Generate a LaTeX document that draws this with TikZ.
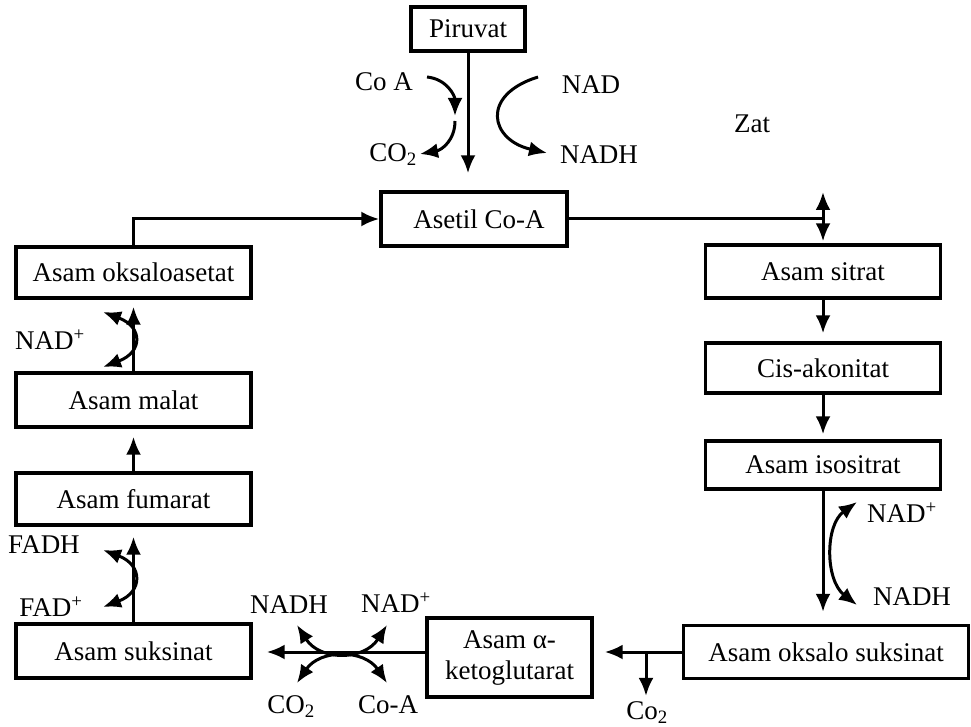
\documentclass[tikz,border=0pt]{standalone}
\usepackage{fontspec}
\setmainfont{Liberation Serif}
\usetikzlibrary{calc,arrows.meta}
\def\BoxWidth{235pt}
\def\LineWidth{3pt}
\def\TipLength{18pt}
\def\TipWidth{15pt}

\begin{document}
\begin{tikzpicture}[x=1pt,y=-1pt,
  font=\fontsize{27}{31}\selectfont,
  box/.style={draw, line width=3.4pt, inner sep=0pt, minimum width=\BoxWidth, minimum height=52pt},
  flow/.style={line width=\LineWidth, -{Latex[length=\TipLength,width=\TipWidth]}},
  both/.style={line width=\LineWidth, {Latex[length=\TipLength,width=\TipWidth]}-{Latex[length=\TipLength,width=\TipWidth]}},
  lbl/.style={inner sep=0pt}]
  \useasboundingbox (0,0) rectangle (971,727);
  % boxes
  \node[box, minimum width=114pt, minimum height=44pt] (piruvat) at (468,29) {Piruvat};
  \node[box, minimum width=186pt, minimum height=54pt] (asetil) at (474,219) {\hspace{10pt}Asetil Co-A};
  \node[box, minimum height=53pt] (sitrat) at (823,271.5) {Asam sitrat};
  \node[box, minimum height=50pt] (cis) at (823,368) {Cis-akonitat};
  \node[box, minimum height=48pt] (isositrat) at (823,465) {Asam isositrat};
  \node[box, minimum width=285pt, minimum height=53pt] (oksalo) at (826,652) {Asam oksalo suksinat};
  \node[box, minimum width=165pt, minimum height=79pt, align=center] (keto) at (509.5,657.5) {Asam α-\\ketoglutarat};
  \node[box, minimum height=54pt] (suksinat) at (133.5,651) {Asam suksinat};
  \node[box, minimum height=52pt] (fumarat) at (133.5,499) {Asam fumarat};
  \node[box, minimum height=54pt] (malat) at (133.5,400) {Asam malat};
  \node[box, minimum height=51pt] (oksaloasetat) at (133.5,272.5) {Asam oksaloasetat};
  % labels
  \node[lbl] (coa) at (384,82) {Co A};
  \node[lbl] (co2a) at (393,155) {CO\textsubscript{2}};
  \node[lbl] (nad) at (591,85) {NAD};
  \node[lbl] (nadh) at (599,155) {NADH};
  \node[lbl] (zat) at (752,124) {Zat};
  \node[lbl] (nadr) at (902,513) {NAD\textsuperscript{+}};
  \node[lbl] (nadhr) at (912,597) {NADH};
  \node[lbl] (co2r) at (647,713) {Co\textsubscript{2}};
  \node[lbl] (nadhb) at (289,605) {NADH};
  \node[lbl] (nadb) at (396,603) {NAD\textsuperscript{+}};
  \node[lbl] (co2b) at (291,707) {CO\textsubscript{2}};
  \node[lbl] (coab) at (388,705) {Co-A};
  \node[lbl] (fadh) at (44,545) {FADH};
  \node[lbl] (fad) at (51,607) {FAD\textsuperscript{+}};
  \node[lbl] (nadl) at (50,340) {NAD\textsuperscript{+}};
  % main cycle
  \draw[flow, shorten >=17pt] (piruvat.south) -- (piruvat.south |- asetil.north);
  \coordinate (jn) at (asetil.east -| sitrat.north);
  \draw[line width=\LineWidth] (asetil.east) -- (jn);
  \draw[flow] (jn) -- ++(0,-27);
  \draw[flow, shorten >=2pt] (jn) -- (sitrat.north);
  \foreach \from/\to/\gap in {sitrat/cis/8pt, cis/isositrat/5pt}
    \draw[flow, shorten >=\gap] (\from) -- (\to);
  \draw[flow, shorten >=12pt] (isositrat.south) -- (isositrat.south |- oksalo.north);
  \draw[flow, shorten >=11pt] (oksalo.west) -- (oksalo.west -| keto.east);
  \coordinate (branch) at (646,652);
  \draw[flow, shorten >=6pt] (branch) -- (branch |- co2r.north);
  \draw[flow, shorten >=14pt] (keto.west |- oksalo.west) -- (suksinat.east |- oksalo.west);
  \foreach \from/\to/\gap in {suksinat/fumarat/10pt, fumarat/malat/8pt, malat/oksaloasetat/7pt}
    \draw[flow, shorten >=\gap] (\from.north) -- (\to.south);
  \draw[flow] (oksaloasetat.north) |- (asetil.west);
  % side reactions
  \coordinate (CoaIn) at (427,77);
  \coordinate (CoaMid1) at (455,116);
  \coordinate (CoaMid2) at (455,121);
  \coordinate (CoaOut) at (420,154);
  \draw[flow] (CoaIn) .. controls +(20,2) and +(0,-20) .. (CoaMid1);
  \draw[flow] (CoaMid2) .. controls +(0,19) and +(22,-4) .. (CoaOut);
  \coordinate (NadIn) at (538,77);
  \coordinate (NadOut) at (547,153);
  \draw[flow] (NadIn) .. controls +(-58,18) and +(-57,-13) .. (NadOut);
  \coordinate (R1) at (857,502);
  \coordinate (R2) at (857,605);
  \draw[both] (R1) .. controls +(-32,23) and +(-32,-25) .. (R2);
  \coordinate (F1) at (103,550);
  \coordinate (F2) at (103,607);
  \draw[both] (F1) .. controls +(40,15) and +(40,-15) .. (F2);
  \coordinate (L1) at (103,312);
  \coordinate (L2) at (103,367);
  \draw[both] (L1) .. controls +(40,15) and +(40,-15) .. (L2);
  \coordinate (B1) at (297,625);
  \coordinate (B2) at (387,625);
  \coordinate (B3) at (297,683);
  \coordinate (B4) at (387,683);
  \draw[both] (B1) .. controls +(23,36) and +(-23,36) .. (B2);
  \draw[both] (B3) .. controls +(23,-34) and +(-23,-34) .. (B4);
\end{tikzpicture}
\end{document}
